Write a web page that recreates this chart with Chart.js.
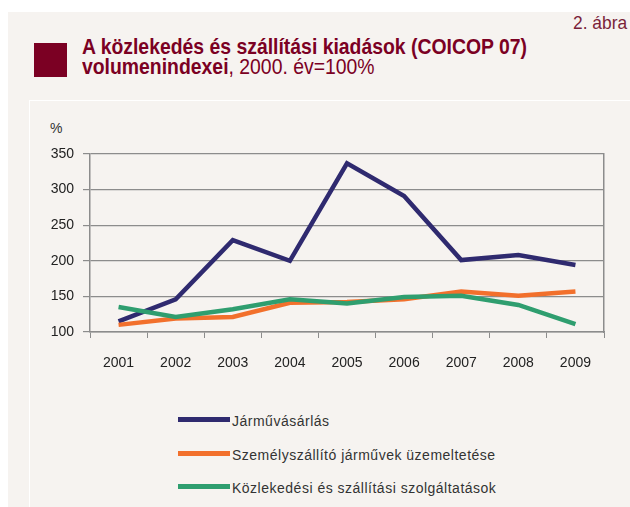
<!DOCTYPE html>
<html>
<head>
<meta charset="utf-8">
<script src="https://cdn.jsdelivr.net/npm/chart.js@4"></script>
<style>
  body { margin: 0; background: #fff; width: 630px; height: 507px; overflow: hidden; position: relative; font-family: 'Liberation Sans', Arial, sans-serif; }
  #panel { position: absolute; left: 8px; top: 12px; width: 622px; height: 495px; background: #f6f3f0; }
  #inner { position: absolute; left: 29px; top: 100px; width: 601px; height: 407px; border-left: 1px solid #fff; border-top: 1px solid #fff; }
  .squeeze { position: absolute; white-space: nowrap; transform-origin: 0 0; }
  #abra { left: 573px; top: 13px; font-size: 19px; line-height: 19px; color: #7a1f3a; }
  #mark { position: absolute; left: 34px; top: 43px; width: 33px; height: 34px; background: #7b0023; }
  .title { left: 82px; font-size: 22px; line-height: 22px; color: #7b0023; font-weight: bold; }
  .title span { font-weight: normal; }
  #t1 { top: 36px; }
  #t2 { top: 56px; }
  #pct { position: absolute; left: 50px; top: 120px; font-size: 14px; color: #333; }
  #chartBox { position: absolute; left: 0; top: 0; width: 630px; height: 380px; }
  #legend { position: absolute; left: 178px; top: 410px; font-size: 14px; letter-spacing: 0.5px; color: #333; }
  .item { height: 33.5px; display: flex; align-items: flex-start; }
  .swatch { width: 52px; height: 5px; margin-top: 7px; margin-right: 2px; }
  .item div + div { padding-top: 3px; }
</style>
</head>
<body>
<div id="panel"></div>
<div id="inner"></div>
<div id="abra" class="squeeze">2. ábra</div>
<div id="mark"></div>
<div id="t1" class="squeeze title">A közlekedés és szállítási kiadások (COICOP 07)</div>
<div id="t2" class="squeeze title">volumenindexei<span>, 2000. év=100%</span></div>
<div id="pct">%</div>
<div id="chartBox"><canvas id="c" width="630" height="380"></canvas></div>
<div id="legend"></div>
<script>
// adatok
const years = ['2001', '2002', '2003', '2004', '2005', '2006', '2007', '2008', '2009'];
const seriesNames = ['Járművásárlás', 'Személyszállító járművek üzemeltetése', 'Közlekedési és szállítási szolgáltatások'];
const jarmuvasarlas = [115, 146, 229, 200, 337, 291, 201, 208, 194];
const uzemeltetes = [110, 119, 121, 141, 142, 146, 157, 151, 157];
const szolgaltatasok = [135, 121, 132, 146, 140, 149, 151, 138, 111];
const seriesColors = ['#2f2a6f', '#f2702c', '#2f9e6f'];
const yTicks = [100, 150, 200, 250, 300, 350];

// keskeny betű imitálása: vízszintes összenyomás
function squeeze(el, width) {
    const s = width / el.offsetWidth;
    el.style.transform = 'scaleX(' + s + ')';
    return s;
}
const s1 = squeeze(document.getElementById('t1'), 445);
document.getElementById('t2').style.transform = 'scaleX(' + s1 + ')';
squeeze(document.getElementById('abra'), 54);

const gridColor = '#8c8c8c';
const tickFont = { family: "'Liberation Sans', Arial, sans-serif", size: 14 };

const ctx = document.getElementById('c').getContext('2d');
const chart = new Chart(ctx, {
    type: 'line',
    data: {
        labels: years,
        datasets: [jarmuvasarlas, uzemeltetes, szolgaltatasok].map((d, i) => ({
            label: seriesNames[i],
            data: d,
            borderColor: seriesColors[i],
            borderWidth: 4.5,
            pointRadius: 0,
            tension: 0,
            fill: false
        })).reverse()
    },
    options: {
        responsive: false,
        animation: false,
        layout: { padding: { left: 30, top: 154, right: 26, bottom: 3 } },
        plugins: { legend: { display: false }, tooltip: { enabled: false } },
        scales: {
            x: {
                offset: true,
                grid: { offset: true, drawOnChartArea: false, color: gridColor, tickLength: 6 },
                border: { color: gridColor, width: 1.5 },
                ticks: { color: '#222', font: tickFont, padding: 17, maxRotation: 0 },
                afterFit: s => { s.height = 45; }
            },
            y: {
                min: 100,
                max: 350,
                afterBuildTicks: s => { s.ticks = yTicks.map(v => ({ value: v })); },
                grid: { color: gridColor, lineWidth: 1.2, tickLength: 7 },
                border: { color: gridColor, width: 1.5 },
                ticks: { color: '#222', font: tickFont, padding: 9 },
                afterFit: s => { s.width = 60; }
            },
            y2: {
                position: 'right',
                min: 100,
                max: 350,
                grid: { drawOnChartArea: false, drawTicks: false },
                border: { color: gridColor, width: 1.5 },
                ticks: { display: false },
                afterFit: s => { s.width = 0; }
            }
        }
    }
});

// HTML jelmagyarázat
const legend = document.getElementById('legend');
seriesNames.forEach((name, i) => {
    const row = document.createElement('div');
    row.className = 'item';
    row.innerHTML = '<div class="swatch" style="background:' + seriesColors[i] + '"></div><div>' + name + '</div>';
    legend.appendChild(row);
});
</script>
</body>
</html>
